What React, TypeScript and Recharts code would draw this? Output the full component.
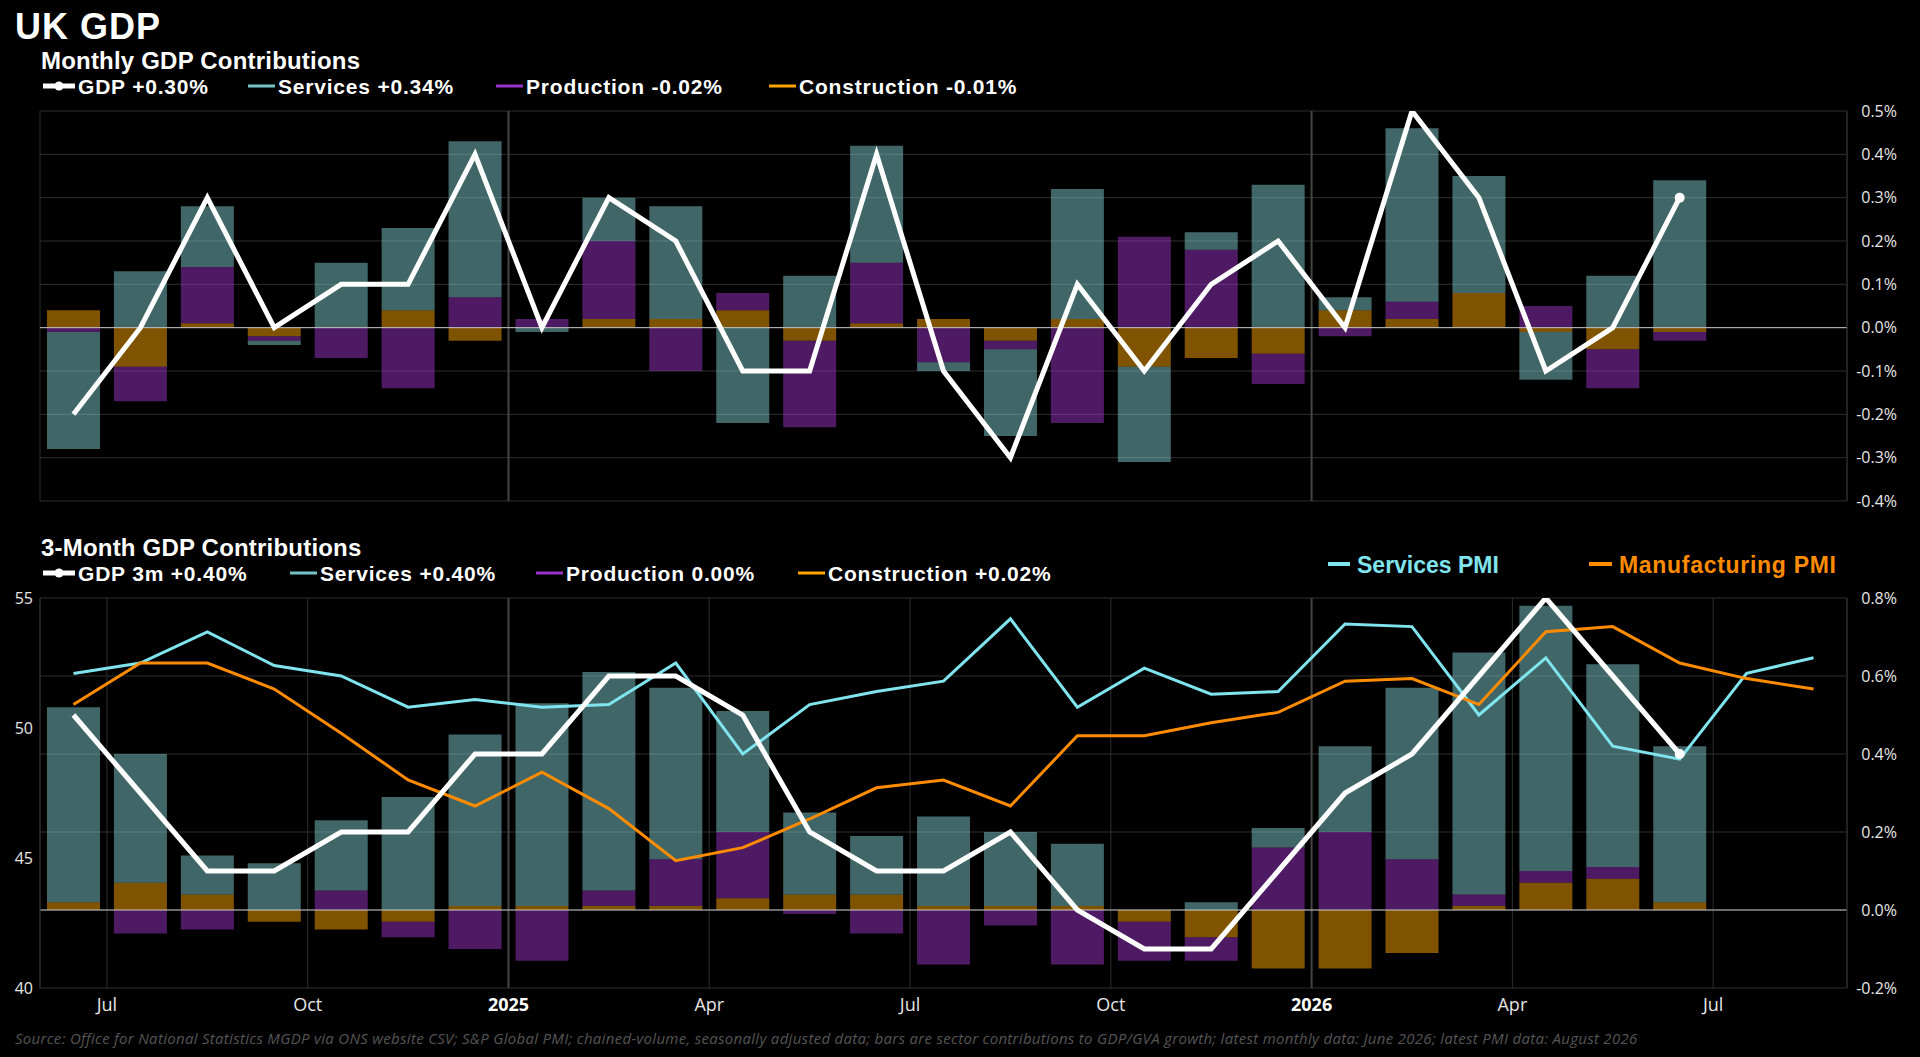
import { ComposedChart, Bar, Line, XAxis, YAxis, CartesianGrid, ReferenceLine } from "recharts"

// Months run Jun 2024 .. Aug 2026 (GDP data to Jun 2026, PMI to Aug 2026)
const monthLabels = [
  "Jun 2024", "Jul 2024", "Aug 2024", "Sep 2024", "Oct 2024", "Nov 2024", "Dec 2024",
  "Jan 2025", "Feb 2025", "Mar 2025", "Apr 2025", "May 2025", "Jun 2025", "Jul 2025",
  "Aug 2025", "Sep 2025", "Oct 2025", "Nov 2025", "Dec 2025", "Jan 2026", "Feb 2026",
  "Mar 2026", "Apr 2026", "May 2026", "Jun 2026", "Jul 2026", "Aug 2026",
]

// Monthly contributions (pp)
const gdpMonthly = [-0.2, 0.0, 0.3, 0.0, 0.1, 0.1, 0.4, 0.0, 0.3, 0.2, -0.1, -0.1, 0.4, -0.1, -0.3, 0.1, -0.1, 0.1, 0.2, 0.0, 0.5, 0.3, -0.1, 0.0, 0.3]
const servicesMonthly = [-0.27, 0.13, 0.14, -0.01, 0.15, 0.19, 0.36, -0.01, 0.10, 0.26, -0.22, 0.12, 0.27, -0.02, -0.20, 0.30, -0.22, 0.04, 0.33, 0.03, 0.40, 0.27, -0.11, 0.12, 0.34]
const productionMonthly = [-0.01, -0.08, 0.13, -0.01, -0.07, -0.14, 0.07, 0.02, 0.18, -0.10, 0.04, -0.20, 0.14, -0.08, -0.02, -0.22, 0.21, 0.18, -0.07, -0.02, 0.04, 0.00, 0.05, -0.09, -0.02]
const constructionMonthly = [0.04, -0.09, 0.01, -0.02, 0.00, 0.04, -0.03, 0.00, 0.02, 0.02, 0.04, -0.03, 0.01, 0.02, -0.03, 0.02, -0.09, -0.07, -0.06, 0.04, 0.02, 0.08, -0.01, -0.05, -0.01]

// 3-month contributions (pp)
const gdp3m = [0.5, 0.3, 0.1, 0.1, 0.2, 0.2, 0.4, 0.4, 0.6, 0.6, 0.5, 0.2, 0.1, 0.1, 0.2, 0.0, -0.1, -0.1, 0.1, 0.3, 0.4, 0.6, 0.8, 0.6, 0.4]
const services3m = [0.50, 0.33, 0.10, 0.12, 0.18, 0.29, 0.44, 0.52, 0.56, 0.44, 0.31, 0.21, 0.15, 0.23, 0.19, 0.16, 0.00, 0.02, 0.05, 0.22, 0.44, 0.62, 0.68, 0.52, 0.40]
const production3m = [0.00, -0.06, -0.05, 0.00, 0.05, -0.04, -0.10, -0.13, 0.04, 0.12, 0.17, -0.01, -0.06, -0.14, -0.04, -0.14, -0.10, -0.06, 0.16, 0.20, 0.13, 0.03, 0.03, 0.03, 0.00]
const construction3m = [0.02, 0.07, 0.04, -0.03, -0.05, -0.03, 0.01, 0.01, 0.01, 0.01, 0.03, 0.04, 0.04, 0.01, 0.01, 0.01, -0.03, -0.07, -0.15, -0.15, -0.11, 0.01, 0.07, 0.08, 0.02]

// S&P Global PMI
const servicesPmi = [52.1, 52.5, 53.7, 52.4, 52.0, 50.8, 51.1, 50.8, 50.9, 52.5, 49.0, 50.9, 51.4, 51.8, 54.2, 50.8, 52.3, 51.3, 51.4, 54.0, 53.9, 50.5, 52.7, 49.3, 48.8, 52.1, 52.7]
const manufacturingPmi = [50.9, 52.5, 52.5, 51.5, 49.8, 48.0, 47.0, 48.3, 46.9, 44.9, 45.4, 46.5, 47.7, 48.0, 47.0, 49.7, 49.7, 50.2, 50.6, 51.8, 51.9, 50.9, 53.7, 53.9, 52.5, 51.9, 51.5]

// axis ticks: month index from 1 Jun 2024
const monthTicks = [1, 4, 7, 10, 13, 16, 19, 22, 25]
const monthTickLabels = ["Jul", "Oct", "2025", "Apr", "Jul", "Oct", "2026", "Apr", "Jul"]
const monthlyPctTicks = [-0.4, -0.3, -0.2, -0.1, 0, 0.1, 0.2, 0.3, 0.4, 0.5]
const threeMonthPctTicks = [-0.2, 0, 0.2, 0.4, 0.6, 0.8]
const pmiTicks = [40, 45, 50, 55]

const SOURCE =
  "Source: Office for National Statistics MGDP via ONS website CSV; S&P Global PMI; chained-volume, seasonally adjusted data; bars are sector contributions to GDP/GVA growth; latest monthly data: June 2026; latest PMI data: August 2026"

const FONT = '"Open Sans", "DejaVu Sans", sans-serif'
const HEAD_FONT = '"Liberation Sans", Arial, sans-serif'
const GRID = "#2f2f2f"
const YEAR_GRID = "#454545"
const ZERO = "#c4c4c4"
const TICK = "#e6e6e6"
const SERVICES_BAR = "#80ccd0"
const PRODUCTION_BAR = "#9c34c6"
const CONSTRUCTION_BAR = "#ffa600"
const SERVICES_KEY = "#74c2c6"
const PRODUCTION_KEY = "#9933cc"
const CONSTRUCTION_KEY = "#ffa500"
const SERVICES_PMI = "#80e4ee"
const MANUFACTURING_PMI = "#ff8c00"

const yearTicks = monthTicks.filter((_, i) => /^\d{4}$/.test(monthTickLabels[i]))

const monthlyRows = gdpMonthly.map((g, i) => ({
  month: monthLabels[i],
  x: i + 0.5,
  gdp: g,
  services: servicesMonthly[i],
  production: productionMonthly[i],
  construction: constructionMonthly[i],
}))

const threeMonthRows = monthLabels.map((m, i) => ({
  month: m,
  x: i + 0.5,
  gdp: gdp3m[i],
  services: services3m[i],
  production: production3m[i],
  construction: construction3m[i],
  servicesPmi: servicesPmi[i],
  manufacturingPmi: manufacturingPmi[i],
}))

const last = (arr: number[]) => arr[arr.length - 1]
const fmtChange = (v: number) => `${v > 0 ? "+" : ""}${v.toFixed(2)}%`

const PctTick = ({ x, y, payload }: any) => (
  <text x={x} y={y} dy="0.36em" textAnchor="end" fill={TICK} fontSize={16} fontFamily={FONT}>
    {`${Number(payload.value).toFixed(1)}%`}
  </text>
)

const PmiTick = ({ x, y, payload }: any) => (
  <text x={x} y={y} dy="0.36em" textAnchor="end" fill={TICK} fontSize={16} fontFamily={FONT}>
    {payload.value}
  </text>
)

const MonthTick = ({ x, y, payload }: any) => {
  const label = monthTickLabels[monthTicks.indexOf(payload.value)] ?? ""
  const isYear = /^\d{4}$/.test(label)
  return (
    <text x={x} y={y} textAnchor="middle" fill={isYear ? "#ffffff" : TICK} fontSize={18} fontWeight={isYear ? 700 : 400} fontFamily={FONT}>
      {label}
    </text>
  )
}

// white dot only on the latest point
const makeEndDot = (lastIndex: number) => (props: any) => {
  const { cx, cy, index } = props
  if (index !== lastIndex || cx == null || cy == null) return <g key={`dot-${index}`} />
  return <circle key={`dot-${index}`} cx={cx} cy={cy} r={5} fill="#ffffff" stroke="none" />
}

type LegendItem = { name: string; value: number; color: string; x: number; gdp?: boolean }

const LegendRow = ({ items, y }: { items: LegendItem[]; y: number }) => (
  <g>
    {items.map((it) => {
      const w = it.gdp ? 32 : 27
      return (
        <g key={it.name}>
          <line x1={it.x} x2={it.x + w} y1={y - 8} y2={y - 8} stroke={it.color} strokeWidth={it.gdp ? 5 : 3} />
          {it.gdp && <circle cx={it.x + w / 2} cy={y - 8} r={4.5} fill={it.color} />}
          <text x={it.x + w + 3} y={y} fill="#ffffff" fontSize={21} fontWeight={700} letterSpacing={0.8} fontFamily={HEAD_FONT}>
            {`${it.name} ${fmtChange(it.value)}`}
          </text>
        </g>
      )
    })}
  </g>
)

export default function App() {
  const monthlyLegend: LegendItem[] = [
    { name: "GDP", value: last(gdpMonthly), color: "#ffffff", x: 43, gdp: true },
    { name: "Services", value: last(servicesMonthly), color: SERVICES_KEY, x: 248 },
    { name: "Production", value: last(productionMonthly), color: PRODUCTION_KEY, x: 496 },
    { name: "Construction", value: last(constructionMonthly), color: CONSTRUCTION_KEY, x: 769 },
  ]
  const threeMonthLegend: LegendItem[] = [
    { name: "GDP 3m", value: last(gdp3m), color: "#ffffff", x: 43, gdp: true },
    { name: "Services", value: last(services3m), color: SERVICES_KEY, x: 290 },
    { name: "Production", value: last(production3m), color: PRODUCTION_KEY, x: 536 },
    { name: "Construction", value: last(construction3m), color: CONSTRUCTION_KEY, x: 798 },
  ]

  return (
    <div style={{ position: "absolute", left: 0, top: 0, width: 1920, height: 1057, background: "#000", overflow: "hidden" }}>
      {/* Monthly contributions */}
      <div style={{ position: "absolute", left: 0, top: 0 }}>
        <ComposedChart width={1920} height={520} data={monthlyRows} stackOffset="sign" margin={{ top: 111, right: 0, bottom: 19, left: 40 }}>
          <CartesianGrid stroke={GRID} yAxisId="pct" />
          <XAxis type="number" dataKey="x" domain={[0, 27]} ticks={monthTicks} tick={false} tickLine={false} axisLine={false} height={0} allowDataOverflow />
          <YAxis
            yAxisId="pct"
            orientation="right"
            domain={[-0.4, 0.5]}
            ticks={monthlyPctTicks}
            width={73}
            tickLine={false}
            tickSize={0}
            tickMargin={50}
            axisLine={{ stroke: GRID }}
            tick={<PctTick />}
            allowDataOverflow
          />
          {yearTicks.map((t) => (
            <ReferenceLine key={t} x={t} yAxisId="pct" stroke={YEAR_GRID} strokeWidth={2} />
          ))}
          <Bar yAxisId="pct" dataKey="construction" stackId="s" fill={CONSTRUCTION_BAR} fillOpacity={0.5} barSize={53} isAnimationActive={false} />
          <Bar yAxisId="pct" dataKey="production" stackId="s" fill={PRODUCTION_BAR} fillOpacity={0.5} barSize={53} isAnimationActive={false} />
          <Bar yAxisId="pct" dataKey="services" stackId="s" fill={SERVICES_BAR} fillOpacity={0.5} barSize={53} isAnimationActive={false} />
          <ReferenceLine y={0} yAxisId="pct" stroke={ZERO} strokeWidth={1} />
          <Line yAxisId="pct" type="linear" dataKey="gdp" stroke="#ffffff" strokeWidth={5} dot={makeEndDot(gdpMonthly.length - 1)} activeDot={false} isAnimationActive={false} />
        </ComposedChart>
      </div>

      {/* 3-month contributions and PMIs */}
      <div style={{ position: "absolute", left: 0, top: 540 }}>
        <ComposedChart width={1920} height={500} data={threeMonthRows} stackOffset="sign" margin={{ top: 58, right: 0, bottom: 12, left: 0 }}>
          <CartesianGrid stroke={GRID} yAxisId="pct" />
          <XAxis
            type="number"
            dataKey="x"
            domain={[0, 27]}
            ticks={monthTicks}
            height={40}
            tickLine={false}
            tickSize={0}
            tickMargin={23}
            axisLine={false}
            tick={<MonthTick />}
            allowDataOverflow
          />
          <YAxis
            yAxisId="pmi"
            orientation="left"
            domain={[40, 55]}
            ticks={pmiTicks}
            width={40}
            tickLine={false}
            tickSize={0}
            tickMargin={7}
            axisLine={{ stroke: GRID }}
            tick={<PmiTick />}
            allowDataOverflow
          />
          <YAxis
            yAxisId="pct"
            orientation="right"
            domain={[-0.2, 0.8]}
            ticks={threeMonthPctTicks}
            width={73}
            tickLine={false}
            tickSize={0}
            tickMargin={50}
            axisLine={{ stroke: GRID }}
            tick={<PctTick />}
            allowDataOverflow
          />
          {yearTicks.map((t) => (
            <ReferenceLine key={t} x={t} yAxisId="pct" stroke={YEAR_GRID} strokeWidth={2} />
          ))}
          <Bar yAxisId="pct" dataKey="construction" stackId="s" fill={CONSTRUCTION_BAR} fillOpacity={0.5} barSize={53} isAnimationActive={false} />
          <Bar yAxisId="pct" dataKey="production" stackId="s" fill={PRODUCTION_BAR} fillOpacity={0.5} barSize={53} isAnimationActive={false} />
          <Bar yAxisId="pct" dataKey="services" stackId="s" fill={SERVICES_BAR} fillOpacity={0.5} barSize={53} isAnimationActive={false} />
          <ReferenceLine y={0} yAxisId="pct" stroke={ZERO} strokeWidth={1} />
          <Line yAxisId="pmi" type="linear" dataKey="servicesPmi" stroke={SERVICES_PMI} strokeWidth={3} dot={false} activeDot={false} isAnimationActive={false} />
          <Line yAxisId="pmi" type="linear" dataKey="manufacturingPmi" stroke={MANUFACTURING_PMI} strokeWidth={3} dot={false} activeDot={false} isAnimationActive={false} />
          <Line yAxisId="pct" type="linear" dataKey="gdp" stroke="#ffffff" strokeWidth={5} dot={makeEndDot(gdp3m.length - 1)} activeDot={false} isAnimationActive={false} />
        </ComposedChart>
      </div>

      {/* titles, legends, source */}
      <svg width={1920} height={1057} style={{ position: "absolute", left: 0, top: 0, pointerEvents: "none" }}>
        <text x={15} y={39} fill="#ffffff" fontSize={36} fontWeight={700} letterSpacing={1} fontFamily={HEAD_FONT}>UK GDP</text>
        <text x={41} y={69} fill="#ffffff" fontSize={24} fontWeight={700} letterSpacing={0.2} fontFamily={HEAD_FONT}>Monthly GDP Contributions</text>
        <LegendRow items={monthlyLegend} y={94} />
        <text x={41} y={556} fill="#ffffff" fontSize={24} fontWeight={700} letterSpacing={0.2} fontFamily={HEAD_FONT}>3-Month GDP Contributions</text>
        <LegendRow items={threeMonthLegend} y={581} />
        <line x1={1328} x2={1350} y1={564} y2={564} stroke={SERVICES_PMI} strokeWidth={4} />
        <text x={1357} y={573} fill={SERVICES_PMI} fontSize={23} fontWeight={700} fontFamily={HEAD_FONT}>Services PMI</text>
        <line x1={1589} x2={1612} y1={564} y2={564} stroke={MANUFACTURING_PMI} strokeWidth={4} />
        <text x={1619} y={573} fill={MANUFACTURING_PMI} fontSize={23} fontWeight={700} letterSpacing={0.7} fontFamily={HEAD_FONT}>Manufacturing PMI</text>
        <text x={15} y={1044} fill="#555555" fontSize={15} fontStyle="italic" letterSpacing={0.3} fontFamily={FONT}>{SOURCE}</text>
      </svg>
    </div>
  )
}
